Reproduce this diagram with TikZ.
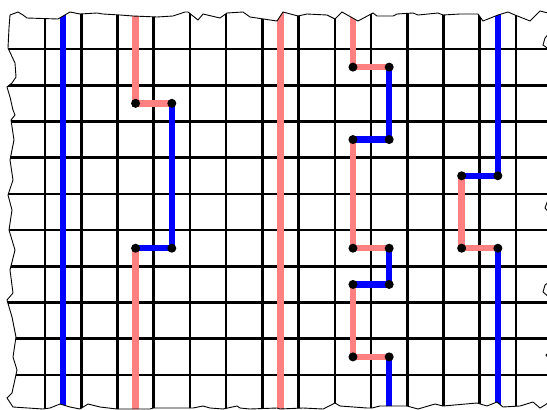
\documentclass[tikz,border=0pt]{standalone}
\definecolor{pathblue}{HTML}{0000FF}
\definecolor{pathpink}{HTML}{FF8080}
\tikzset{
  gridline/.style={line width=2.6pt, black},
  bluepath/.style={line width=6.5pt, pathblue},
  pinkpath/.style={line width=6.5pt, pathpink},
  joint/.style={circle, fill=black, inner sep=0pt, minimum size=9pt},
  tornedge/.style={line width=0.9pt, black, line join=miter}
}
\begin{document}
\begin{tikzpicture}[x=1pt,y=-1pt]
\useasboundingbox (0,0) rectangle (547,410);
\def\tornpath{(10,15) -- (18,12) -- (23,15) -- (27,18) -- (58,19) -- (70,12) -- (80,14) -- (97,13) -- (103,14) -- (120,15) -- (133,16) -- (157,17) -- (173,16) -- (185,12) -- (188,12) -- (198,20) -- (203,14) -- (220,18) -- (227,13) -- (243,12) -- (250,17) -- (277,21) -- (283,12) -- (298,16) -- (307,14) -- (327,15) -- (335,19) -- (342,12) -- (358,21) -- (373,13) -- (377,16) -- (393,16) -- (397,14) -- (413,13) -- (418,15) -- (438,13) -- (443,15) -- (460,14) -- (478,14) -- (483,21) -- (498,15) -- (508,12) -- (515,15) -- (530,21) -- (540,11) -- (552,14)
 -- (552,30) -- (545,38) -- (543,45) -- (550,50) -- (552,120) -- (548,200) -- (545,208) -- (551,215) -- (552,280) -- (545,285) -- (543,292) -- (550,298) -- (552,350) -- (546,355) -- (551,362) -- (552,400) -- (545,405)
 -- (540,408) -- (533,402) -- (520,406) -- (503,407) -- (497,402) -- (487,406) -- (477,403) -- (443,406) -- (435,404) -- (418,409) -- (407,406) -- (380,406) -- (372,408) -- (367,408) -- (340,406) -- (335,403) -- (323,409) -- (303,408) -- (280,409) -- (277,408) -- (250,409) -- (240,408) -- (237,406) -- (223,409) -- (210,408) -- (203,406) -- (193,408) -- (180,408) -- (173,408) -- (153,408) -- (150,409) -- (117,409) -- (100,407) -- (88,404) -- (80,409) -- (70,407) -- (60,404) -- (50,408) -- (43,409) -- (13,407) -- (7,398) -- (12,393) -- (17,370) -- (13,357) -- (16,337) -- (12,317) -- (7,300) -- (13,293) -- (10,270) -- (15,250) -- (9,230) -- (12,210) -- (8,195) -- (13,180) -- (10,160) -- (14,140) -- (11,120) -- (15,115) -- (13,110) -- (10,97) -- (7,87) -- (12,83) -- (16,77) -- (15,63) -- (8,48) -- (9,28) -- cycle}
\begin{scope}
  \clip \tornpath;
  \begin{scope}[shift={(45,49)}, x=36.23pt, y=-36.22pt]
    \foreach \i in {0,...,13} \draw[gridline] (\i,-1.6) -- (\i,10.3);
    \foreach \j in {0,...,9} \draw[gridline] (-1.5,\j) -- (14.2,\j);
    % path 1
    \coordinate (a0) at (0.5,-1.6);
    \coordinate (a1) at (0.5,10.3);
    \draw[bluepath] (a0) -- (a1);
    % path 2
    \coordinate (b0) at (2.5,-1.6);
    \coordinate (b1) at (2.5,1.5);
    \coordinate (b2) at (3.5,1.5);
    \coordinate (b3) at (3.5,5.5);
    \coordinate (b4) at (2.5,5.5);
    \coordinate (b5) at (2.5,10.3);
    \draw[pinkpath] (b0) -- (b1) -- (b2);
    \draw[bluepath] (b2) -- (b3) -- (b4);
    \draw[pinkpath] (b4) -- (b5);
    % path 3
    \coordinate (c0) at (6.5,-1.6);
    \coordinate (c1) at (6.5,10.3);
    \draw[pinkpath] (c0) -- (c1);
    % path 4
    \coordinate (e0) at (8.5,-1.6);
    \coordinate (e1) at (8.5,0.5);
    \coordinate (e2) at (9.5,0.5);
    \coordinate (e3) at (9.5,2.5);
    \coordinate (e4) at (8.5,2.5);
    \coordinate (e5) at (8.5,5.5);
    \coordinate (e6) at (9.5,5.5);
    \coordinate (e7) at (9.5,6.5);
    \coordinate (e8) at (8.5,6.5);
    \coordinate (e9) at (8.5,8.5);
    \coordinate (e10) at (9.5,8.5);
    \coordinate (e11) at (9.5,10.3);
    \draw[pinkpath] (e0) -- (e1) -- (e2);
    \draw[bluepath] (e2) -- (e3) -- (e4);
    \draw[pinkpath] (e4) -- (e5) -- (e6);
    \draw[bluepath] (e6) -- (e7) -- (e8);
    \draw[pinkpath] (e8) -- (e9) -- (e10);
    \draw[bluepath] (e10) -- (e11);
    % path 5
    \coordinate (f0) at (12.5,-1.6);
    \coordinate (f1) at (12.5,3.5);
    \coordinate (f2) at (11.5,3.5);
    \coordinate (f3) at (11.5,5.5);
    \coordinate (f4) at (12.5,5.5);
    \coordinate (f5) at (12.5,10.3);
    \draw[bluepath] (f0) -- (f1) -- (f2);
    \draw[pinkpath] (f2) -- (f3) -- (f4);
    \draw[bluepath] (f4) -- (f5);
    % joints
    \foreach \p in {b1,b2,b3,b4,e1,e2,e3,e4,e5,e6,e7,e8,e9,e10,f1,f2,f3,f4}
      \node[joint] (dot-\p) at (\p) {};
  \end{scope}
\end{scope}
\draw[tornedge] \tornpath;
\end{tikzpicture}
\end{document}
